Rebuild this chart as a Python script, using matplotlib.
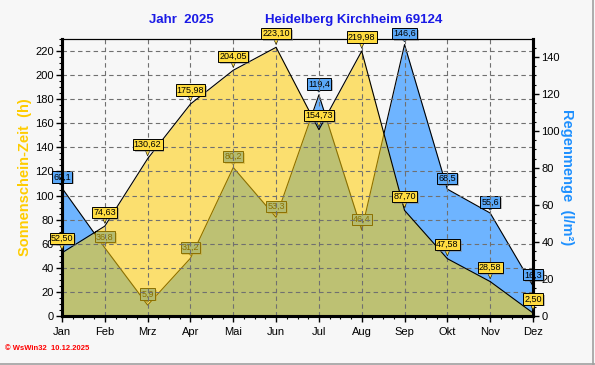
import matplotlib
matplotlib.use("Agg")
import matplotlib.pyplot as plt
import matplotlib.patheffects as pe
from matplotlib.lines import Line2D
from matplotlib.ticker import MultipleLocator

plt.rcParams['font.family'] = ['Liberation Sans', 'DejaVu Sans']

# Daten
monate = ["Jan", "Feb", "Mrz", "Apr", "Mai", "Jun", "Jul", "Aug", "Sep", "Okt", "Nov", "Dez"]
sonne = [52.50, 74.63, 130.62, 175.98, 204.05, 223.10, 154.73, 219.98, 87.70, 47.58, 28.58, 2.50]
regen = [69.1, 36.8, 5.9, 31.2, 80.2, 53.3, 119.4, 46.4, 146.6, 68.5, 55.6, 16.3]
sonne_txt = ["52,50", "74,63", "130,62", "175,98", "204,05", "223,10", "154,73", "219,98", "87,70", "47,58", "28,58", "2,50"]
regen_txt = ["69,1", "36,8", "5,9", "31,2", "80,2", "53,3", "119,4", "46,4", "146,6", "68,5", "55,6", "16,3"]

bg = "#F7F7F7"
gelb = "#FFCC00"
blau = "#6EB4FF"

fig = plt.figure(figsize=(5.95, 3.65), dpi=100, facecolor=bg)
ax = fig.add_axes([62 / 595, 49 / 365, 471 / 595, 277 / 365])
ax2 = ax.twinx()
ax.set_zorder(ax2.get_zorder() + 1)
ax.patch.set_visible(False)
ax2.set_facecolor(bg)

x = list(range(len(monate)))


def beschriften(a, werte, texte, dy, farbe, z):
    for i, v in enumerate(werte):
        t = a.annotate(texte[i], (i, v), xytext=(0, dy), textcoords="offset pixels",
                       ha="center", va="center", fontsize=6.5, zorder=z,
                       bbox=dict(boxstyle="square,pad=0.12", fc=farbe, ec="black", lw=0.7),
                       arrowprops=dict(arrowstyle="wedge,tail_width=0.5,shrink_factor=0.5",
                                       fc=farbe, ec="black", lw=0.4, shrinkA=0, shrinkB=2))
        t.get_bbox_patch().set_path_effects([pe.SimplePatchShadow(offset=(1.3, -1.3), shadow_rgbFace="gray", alpha=0.5), pe.Normal()])


# Regen (hinten)
ax2.fill_between(x, 0, regen, color=blau, lw=0, zorder=1)
ax2.plot(x, regen, color="black", lw=0.8, zorder=2)
beschriften(ax2, regen, regen_txt, 11, "#5AA8F8", 5)

# Sonne (vorne, halbtransparent)
ax.fill_between(x, 0, sonne, color=gelb, alpha=0.55, lw=0, zorder=1)
ax.plot(x, sonne, color="black", lw=0.8, zorder=3)
beschriften(ax, sonne, sonne_txt, 14, "#FFDC40", 10)

ax.set_xlim(0, 11)
ax.set_ylim(0, 230)
ax2.set_ylim(0, 149.6)
ax.set_xticks(x)
ax.set_xticklabels(monate)
ax.xaxis.set_minor_locator(MultipleLocator(0.25))
ax.yaxis.set_major_locator(MultipleLocator(20))
ax.yaxis.set_minor_locator(MultipleLocator(5))
ax2.yaxis.set_major_locator(MultipleLocator(20))
ax2.yaxis.set_minor_locator(MultipleLocator(5))

ax.grid(True, which="major", color="#707070", ls=(0, (4, 3)), lw=0.8)

for a in (ax, ax2):
    a.tick_params(which="major", length=4, width=1, labelsize=8, pad=2)
    a.tick_params(which="minor", length=2.5, width=0.8)
    for s in ("left", "bottom", "right"):
        a.spines[s].set_linewidth(2.2)
    a.spines["top"].set_linewidth(0.8)
ax.tick_params(axis="x", pad=4)

ax.set_ylabel("Sonnenschein-Zeit  (h)", color=gelb, fontsize=10.5, fontweight="bold", labelpad=2)
ax2.set_ylabel("Regenmenge  (l/m²)", color="#1E90FF", fontsize=10.5, fontweight="bold",
               rotation=270, labelpad=10)

fig.text(181 / 595, 1 - 20 / 365, "Jahr  2025", color="#1A1AE6", fontsize=9.5,
         fontweight="bold", ha="center", va="center")
fig.text(354 / 595, 1 - 20 / 365, "Heidelberg Kirchheim 69124", color="#1A1AE6", fontsize=9.5,
         fontweight="bold", ha="center", va="center")
fig.text(5 / 595, 1 - 348 / 365, "© WsWin32  10.12.2025", color="red", fontsize=5.5,
         fontweight="bold", ha="left", va="center")

fig.add_artist(Line2D([0, 1], [0.003, 0.003], color="#A0A0A0", lw=1.2, transform=fig.transFigure))
fig.add_artist(Line2D([0.997, 0.997], [0, 1], color="#A0A0A0", lw=1.2, transform=fig.transFigure))

fig.savefig("out.png", dpi=100, facecolor=bg)
